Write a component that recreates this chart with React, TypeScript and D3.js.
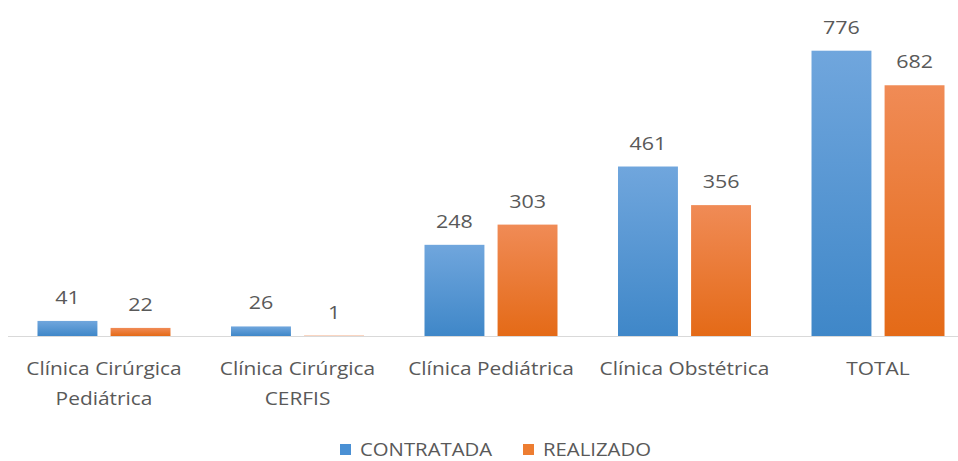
import React, { useEffect, useRef } from 'react';
import * as d3 from 'd3';

const categories = ['Clínica Cirúrgica Pediátrica', 'Clínica Cirúrgica CERFIS', 'Clínica Pediátrica', 'Clínica Obstétrica', 'TOTAL'];
const categoryLines = [['Clínica Cirúrgica', 'Pediátrica'], ['Clínica Cirúrgica', 'CERFIS'], ['Clínica Pediátrica'], ['Clínica Obstétrica'], ['TOTAL']];
const seriesNames = ['CONTRATADA', 'REALIZADO'];
const contratada = [41, 26, 248, 461, 776];
const realizado = [22, 1, 303, 356, 682];

const width = 958;
const height = 461;
const baseline = 336;
const font = '"Open Sans", Lato, sans-serif';
const textColor = '#595959';
// o original parece esticado na horizontal
const sx = 1.13;

const App = () => {
  const svgRef = useRef(null);

  useEffect(() => {
    const svg = d3.select(svgRef.current);
    svg.selectAll('*').remove();

    const defs = svg.append('defs');
    const grads = [
      { id: 'gBlue', top: '#70a6dd', bottom: '#3f87c8' },
      { id: 'gOrange', top: '#f08b56', bottom: '#e46a17' },
    ];
    grads.forEach(g => {
      const lg = defs.append('linearGradient').attr('id', g.id).attr('x1', 0).attr('y1', 0).attr('x2', 0).attr('y2', 1);
      lg.append('stop').attr('offset', '0%').attr('stop-color', g.top);
      lg.append('stop').attr('offset', '100%').attr('stop-color', g.bottom);
    });
    const fills = ['url(#gBlue)', 'url(#gOrange)'];
    const legendColors = ['#4a90d4', '#ed7d31'];

    // escalas
    const x0 = d3.scaleBand()
      .domain(categories)
      .range([7.25, 974.75])
      .paddingInner(0.3127)
      .paddingOuter(0.1563);

    const x1 = d3.scaleBand()
      .domain(seriesNames)
      .range([0, x0.bandwidth()])
      .paddingInner(0.18);

    const y = d3.scaleLinear()
      .domain([0, 776])
      .range([baseline, 50.7]);

    const data = categories.map((c, i) => ({
      cat: c,
      values: [
        { key: seriesNames[0], value: contratada[i], idx: 0 },
        { key: seriesNames[1], value: realizado[i], idx: 1 },
      ],
    }));

    // eixo
    svg.append('line')
      .attr('x1', 8).attr('x2', width)
      .attr('y1', baseline + 0.5).attr('y2', baseline + 0.5)
      .attr('stroke', '#d9d9d9').attr('stroke-width', 1);

    const groups = svg.selectAll('.grp')
      .data(data)
      .join('g')
      .attr('class', 'grp')
      .attr('transform', d => `translate(${x0(d.cat)},0)`);

    groups.selectAll('rect')
      .data(d => d.values)
      .join('rect')
      .attr('x', d => x1(d.key))
      .attr('y', d => y(d.value))
      .attr('width', x1.bandwidth())
      .attr('height', d => baseline - y(d.value))
      .attr('fill', d => fills[d.idx]);

    groups.selectAll('.val')
      .data(d => d.values)
      .join('text')
      .attr('class', 'val')
      .attr('transform', d => `translate(${x1(d.key) + x1.bandwidth() / 2},${y(d.value) - 17}) scale(${sx},1)`)
      .attr('text-anchor', 'middle')
      .attr('font-family', font)
      .attr('font-size', 19)
      .attr('fill', textColor)
      .text(d => d.value);

    // rótulos
    categories.forEach((c, i) => {
      const t = svg.append('text')
        .attr('transform', `translate(${x0(c) + x0.bandwidth() / 2},375) scale(${sx},1)`)
        .attr('text-anchor', 'middle')
        .attr('font-family', font)
        .attr('font-size', 18.5)
        .attr('fill', textColor);
      categoryLines[i].forEach((line, j) => {
        t.append('tspan')
          .attr('x', 0)
          .attr('y', j * 30)
          .text(line);
      });
    });

    // legenda
    const legend = svg.append('g');
    const legendX = [340, 523];
    seriesNames.forEach((s, i) => {
      legend.append('rect')
        .attr('x', legendX[i]).attr('y', 444)
        .attr('width', 11).attr('height', 11)
        .attr('fill', legendColors[i]);
      legend.append('text')
        .attr('transform', `translate(${legendX[i] + 20},455.5) scale(${sx},1)`)
        .attr('font-family', font)
        .attr('font-size', 18)
        .attr('fill', textColor)
        .text(s);
    });
  }, []);

  return (
    <svg ref={svgRef} width={width} height={height} style={{ position: 'absolute', left: 0, top: 0 }} />
  );
};

export default App;
